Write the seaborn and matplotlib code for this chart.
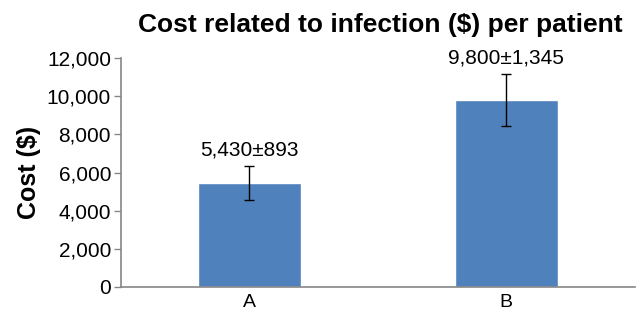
import matplotlib
matplotlib.use("Agg")
import matplotlib.pyplot as plt
import seaborn as sns
import pandas as pd
from matplotlib.ticker import FuncFormatter

# ── Data ──────────────────────────────────────────────────────────────────────
groups = ["A", "B"]
cost_mean = [5430, 9800]
cost_sd = [893, 1345]
bar_labels = ["5,430±893", "9,800±1,345"]

df = pd.DataFrame({"group": groups, "cost": cost_mean})

# ── Plot ──────────────────────────────────────────────────────────────────────
sns.set_theme(style="white", rc={"text.color": "black", "axes.labelcolor": "black",
                                 "xtick.color": "black", "ytick.color": "black"})
plt.rcParams["font.family"] = ["Liberation Sans", "DejaVu Sans"]

fig = plt.figure(figsize=(6.36, 3.14), dpi=100)
ax = fig.add_axes([0.190, 0.086, 0.808, 0.729])

sns.barplot(data=df, x="group", y="cost", color="#4F81BD", saturation=1,
            width=0.4, errorbar=None, ax=ax)
ax.errorbar(range(len(groups)), cost_mean, yerr=cost_sd, fmt="none",
            ecolor="black", elinewidth=1, capsize=3.5, capthick=1)

for i, (m, s, lbl) in enumerate(zip(cost_mean, cost_sd, bar_labels)):
    ax.annotate(lbl, (i, m + s), xytext=(0, 5), textcoords="offset points",
                ha="center", va="bottom", fontsize=15)

ax.set_ylim(0, 12000)
ax.set_yticks(range(0, 12001, 2000))
ax.yaxis.set_major_formatter(FuncFormatter(lambda v, _: f"{int(v):,}"))
ax.set_xlim(-0.5, 1.5)

# category labels centred, tick marks on category boundaries
ax.set_xticks([-0.5, 0.5, 1.5], minor=True)
ax.tick_params(axis="x", which="major", length=0, labelsize=14, pad=5)
ax.tick_params(axis="x", which="minor", length=5, color="#868686", width=1)
ax.tick_params(axis="y", length=5, color="#868686", labelcolor="black", width=1,
               labelsize=15, pad=2, direction="out", left=True)

for side in ["top", "right"]:
    ax.spines[side].set_visible(False)
for side in ["left", "bottom"]:
    ax.spines[side].set_color("#868686")
    ax.spines[side].set_linewidth(1.2)

ax.set_xlabel("")
ax.set_ylabel("Cost ($)", fontsize=18, fontweight="bold", labelpad=4)
fig.text(0.598, 0.96, "Cost related to infection ($) per patient",
         ha="center", va="top", fontsize=19, fontweight="bold")

fig.savefig("out.png", dpi=100)
